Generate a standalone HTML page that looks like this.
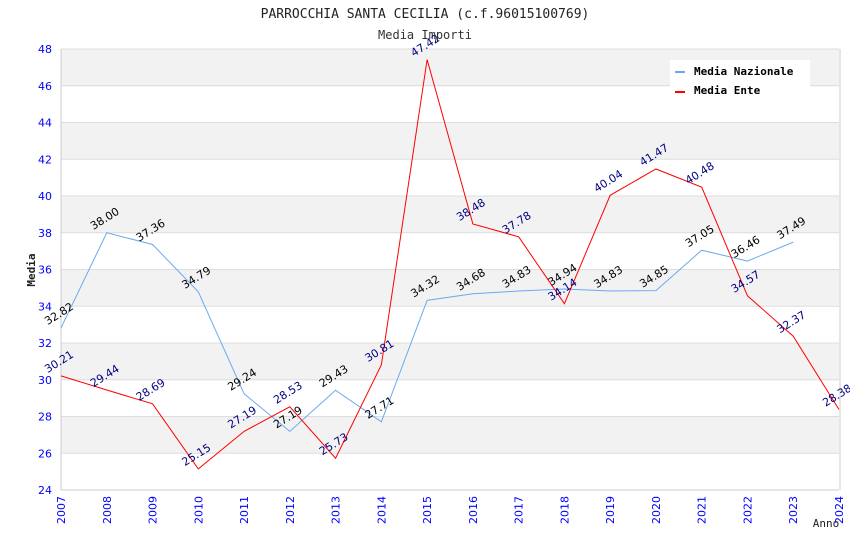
<!DOCTYPE html>
<html><head><meta charset="utf-8"><style>
body{margin:0;background:#fff;}
text{font-family:"DejaVu Sans","Liberation Sans",sans-serif;}
.mono{font-family:"DejaVu Sans Mono","Liberation Mono",monospace;}
</style></head><body>
<svg id="chart" width="850" height="550" viewBox="0 0 850 550" xmlns="http://www.w3.org/2000/svg">
<text class="mono" x="425" y="18" text-anchor="middle" font-size="13" fill="#222">PARROCCHIA SANTA CECILIA (c.f.96015100769)</text>
<text class="mono" x="425" y="39" text-anchor="middle" font-size="12" fill="#333">Media Importi</text>
<g id="grid"></g>
<g id="axes"></g>
<g id="series"></g>
<g id="labels"></g>
<text class="mono" transform="translate(35,270) rotate(-90)" text-anchor="middle" font-size="11" font-weight="bold" fill="#222">Media</text>
<text class="mono" x="826" y="527" text-anchor="middle" font-size="11" fill="#222">Anno</text>
<g>
<rect x="670" y="60" width="140" height="40" fill="#fff"/>
<rect x="675" y="71" width="10" height="2" fill="#6aaaf0"/>
<text class="mono" x="694" y="75" font-size="11" font-weight="bold" fill="#000">Media Nazionale</text>
<rect x="675" y="91" width="10" height="2" fill="#ff0000"/>
<text class="mono" x="694" y="94" font-size="11" font-weight="bold" fill="#000">Media Ente</text>
</g>
</svg>
<script>
const years=[2007,2008,2009,2010,2011,2012,2013,2014,2015,2016,2017,2018,2019,2020,2021,2022,2023,2024];
const nazionale=[32.82,38.00,37.36,34.79,29.24,27.19,29.43,27.71,34.32,34.68,34.83,34.94,34.83,34.85,37.05,36.46,37.49,null];
const ente=[30.21,29.44,28.69,25.15,27.19,28.53,25.73,30.81,47.42,38.48,37.78,34.14,40.04,41.47,40.48,34.57,32.37,28.38];
const yTicks=[24,26,28,30,32,34,36,38,40,42,44,46,48];
const NS="http://www.w3.org/2000/svg";
const X0=61,X1=839,Y0=490,Y1=49,ymin=24,ymax=48;
const xs=i=>X0+(X1-X0)*i/(years.length-1);
const ys=v=>Y0-(v-ymin)/(ymax-ymin)*(Y0-Y1);
function mk(tag,attrs,parent){const e=document.createElementNS(NS,tag);for(const k in attrs)e.setAttribute(k,attrs[k]);parent.appendChild(e);return e;}
const grid=document.getElementById('grid'),axes=document.getElementById('axes'),ser=document.getElementById('series'),lab=document.getElementById('labels');
for(let i=0;i<yTicks.length-1;i++){
 if(i%2===1){const r=mk('rect',{x:X0,y:ys(yTicks[i+1]),width:X1-X0,height:ys(yTicks[i])-ys(yTicks[i+1]),fill:'#f2f2f2'},grid);
 
 }
}
yTicks.forEach(t=>{
 const l=mk('line',{x1:X0,x2:X1,y1:ys(t),y2:ys(t),stroke:'#dddddd','stroke-width':1},grid);
 
 
 const tx=mk('text',{x:52,y:ys(t)+4,'text-anchor':'end','font-size':11,fill:'#0000ff'},axes);
 tx.textContent=t;
 
 
});
mk('line',{x1:X0,x2:X0,y1:Y1,y2:Y0,stroke:'#ccc'},axes);
mk('line',{x1:X1+1,x2:X1+1,y1:Y1,y2:Y0,stroke:'#ccc'},axes);
mk('line',{x1:X0,x2:X1,y1:Y0,y2:Y0,stroke:'#ccc'},axes);
years.forEach((y,i)=>{
 const tx=mk('text',{transform:`translate(${xs(i)+4},${Y0+6}) rotate(-90)`,'text-anchor':'end','font-size':11,fill:'#0000ff'},axes);
 tx.textContent=y;
 
 
});
function draw(data,color,lcolor,name){
 let d='';
 data.forEach((v,i)=>{if(v==null)return;d+=(d?'L':'M')+xs(i)+','+ys(v);});
 const p=mk('path',{d:d,fill:'none',stroke:color,'stroke-width':1},ser);
 
 
 data.forEach((v,i)=>{if(v==null)return;
  const t=mk('text',{transform:`translate(${xs(i)},${ys(v)-11}) rotate(-32)`,'text-anchor':'middle','font-size':11,fill:lcolor},lab);
  t.textContent=v.toFixed(2);
  
  
 });
}
draw(nazionale,'#6aaaf0','#000','media-nazionale');
draw(ente,'#ff0000','#000080','media-ente');
</script>
</body></html>
